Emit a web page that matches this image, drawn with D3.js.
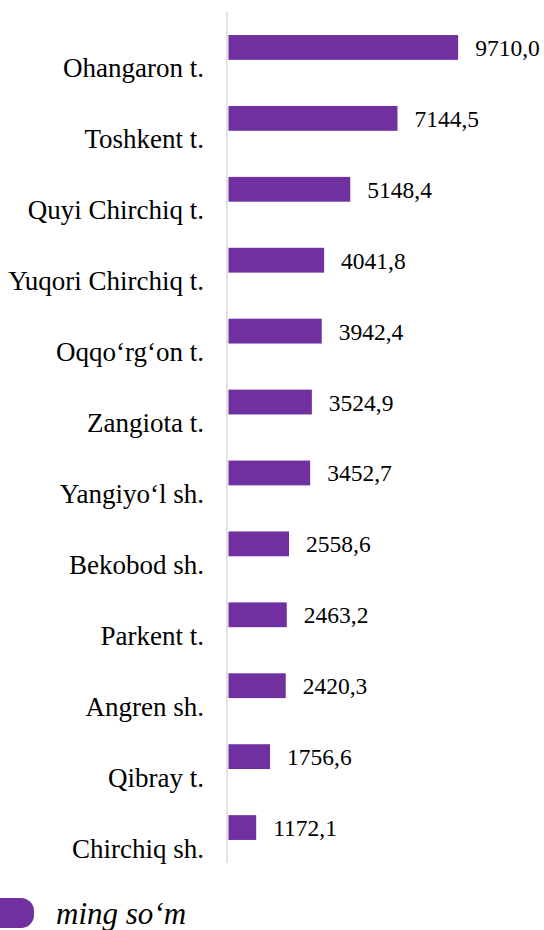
<!DOCTYPE html>
<html>
<head>
<meta charset="utf-8">
<script src="https://cdn.jsdelivr.net/npm/d3@7"></script>
<style>
    body { margin: 0; background: #fff; }
    svg { display: block; }
</style>
</head>
<body>
<div id="chart"></div>
<script>
// districts, top to bottom
const categories = [
    "Ohangaron t.", "Toshkent t.", "Quyi Chirchiq t.", "Yuqori Chirchiq t.",
    "Oqqo\u2018rg\u2018on t.", "Zangiota t.", "Yangiyo\u2018l sh.", "Bekobod sh.",
    "Parkent t.", "Angren sh.", "Qibray t.", "Chirchiq sh."
];
const values = [9710.0, 7144.5, 5148.4, 4041.8, 3942.4, 3524.9, 3452.7, 2558.6, 2463.2, 2420.3, 1756.6, 1172.1];
const seriesName = "ming so\u2018m";

const FONT = "Liberation Serif";

class HorizontalBarChart {

    constructor() {
        this.width = 544;
        this.height = 930;
        this.barColor = "#7030a0";
        this.axisColor = "#d9d9d9";
        this.xScale = d3.scaleLinear().domain([0, 10000]).range([228.5, 465]);
        this.yScale = d3.scaleBand()
            .domain(categories)
            .range([12, 863])
            .paddingInner(0.65)
            .paddingOuter(0.325);
        this.fmt = v => d3.format(".1f")(v).replace(".", ",");
    }

    draw(selector) {
        const _this = this;
        const data = categories.map((c, i) => ({name: c, value: values[i]}));

        const svg = d3.select(selector).append("svg")
            .attr("width", this.width)
            .attr("height", this.height)
            .attr("font-family", FONT);

        //bars
        svg.append("g").selectAll("rect")
            .data(data)
            .join("rect")
            .attr("x", this.xScale(0))
            .attr("y", d => this.yScale(d.name))
            .attr("width", d => this.xScale(d.value) - this.xScale(0))
            .attr("height", this.yScale.bandwidth())
            .attr("fill", this.barColor);

        //vertical category axis line
        svg.append("line")
            .attr("x1", 227).attr("x2", 227)
            .attr("y1", this.yScale.range()[0]).attr("y2", this.yScale.range()[1])
            .attr("stroke", this.axisColor)
            .attr("stroke-width", 1.5);

        //category labels (sit a bit below the bar, like the original)
        const step = this.yScale.step();
        svg.append("g").selectAll("text")
            .data(data)
            .join("text")
            .attr("font-size", 27)
            .attr("x", 204)
            .attr("y", d => this.yScale(d.name) - step * 0.325 + step / 2 + 30)
            .attr("text-anchor", "end")
            .text(d => d.name);

        //value labels
        svg.append("g").selectAll("text")
            .data(data)
            .join("text")
            .attr("font-size", 23.5)
            .attr("x", d => this.xScale(d.value) + 17)
            .attr("y", d => this.yScale(d.name) + this.yScale.bandwidth() / 2)
            .attr("dy", "0.36em")
            .text(d => _this.fmt(d.value));

        //legend
        const gLegend = svg.append("g").attr("transform", "translate(0,898)");
        gLegend.append("rect")
            .attr("x", -20).attr("y", 0)
            .attr("width", 54).attr("height", 30)
            .attr("rx", 13)
            .attr("fill", this.barColor);
        gLegend.append("text")
            .attr("font-size", 31)
            .attr("font-style", "italic")
            .attr("x", 56).attr("y", 26)
            .text(seriesName);
    }
}

new HorizontalBarChart().draw("#chart");
</script>
</body>
</html>
